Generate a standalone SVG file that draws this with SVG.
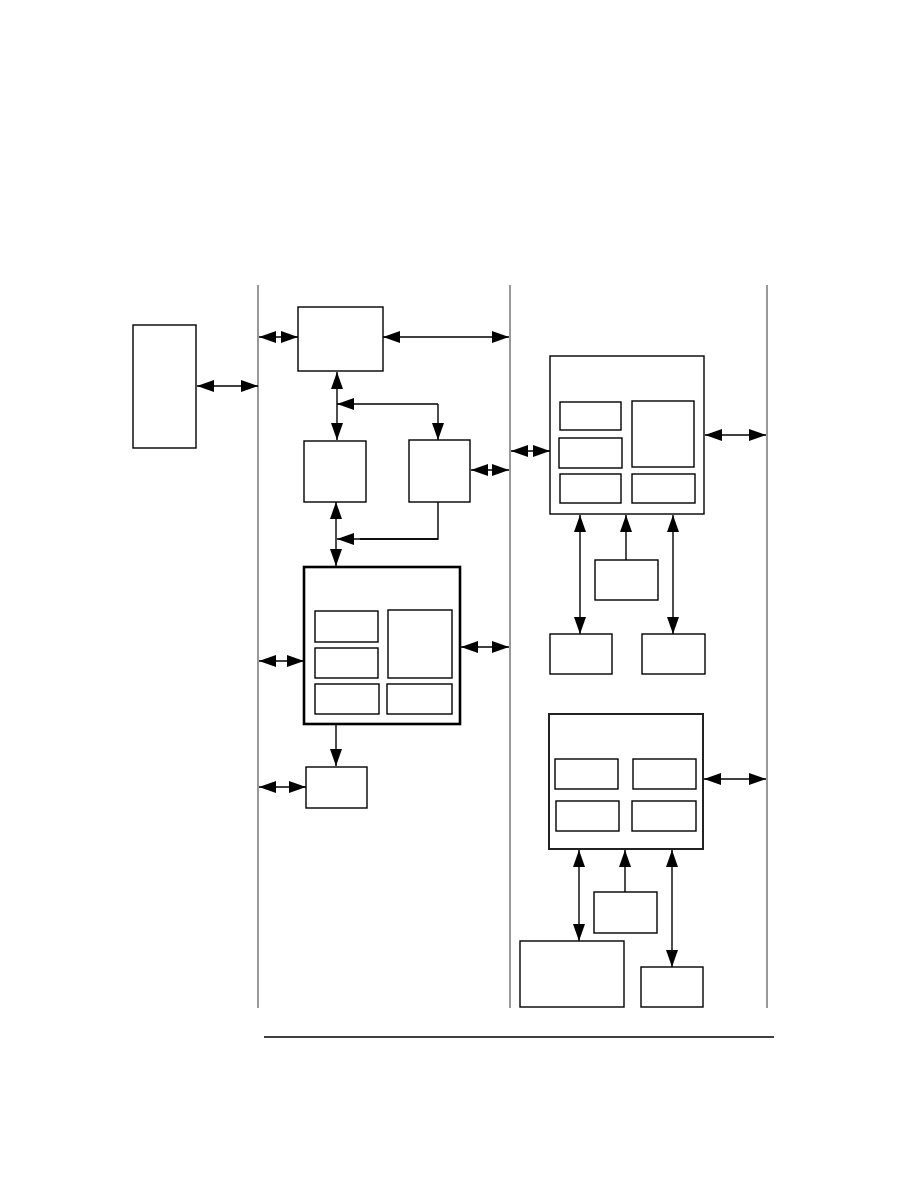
<svg xmlns="http://www.w3.org/2000/svg" width="918" height="1188" viewBox="0 0 918 1188">
<defs>
<marker id="ah" markerUnits="userSpaceOnUse" markerWidth="18" markerHeight="12" refX="17" refY="6" orient="auto-start-reverse" viewBox="0 0 18 12">
<path d="M0,0 L17,6 L0,12 z" fill="#000"/>
</marker>
<style>
.box{fill:#fff;stroke:#000;stroke-width:1.4}
.thick{fill:#fff;stroke:#000;stroke-width:2.6}
.med{fill:#fff;stroke:#222;stroke-width:2}
.sep{stroke:#777;stroke-width:1.5;fill:none}
.rule{stroke:#000;stroke-width:1.3;fill:none}
.c{stroke:#000;stroke-width:1.4;fill:none}
.d{marker-start:url(#ah);marker-end:url(#ah)}
.e{marker-end:url(#ah)}
</style>
</defs>
<rect width="918" height="1188" fill="#fff"/>
<g id="separators">
<line class="sep" x1="258" y1="285" x2="258" y2="1008"/>
<line class="sep" x1="510" y1="285" x2="510" y2="1008"/>
<line class="sep" x1="767" y1="285" x2="767" y2="1008"/>
<line class="rule" x1="264" y1="1037" x2="774" y2="1037"/>
</g>
<g id="connectors">
<line class="c d" x1="197" y1="386" x2="258" y2="386"/>
<line class="c d" x1="259" y1="337" x2="298" y2="337"/>
<line class="c d" x1="383" y1="337" x2="509" y2="337"/>
<line class="c d" x1="337" y1="372" x2="337" y2="440"/>
<line class="c e" x1="438" y1="404" x2="337" y2="404"/>
<line class="c e" x1="438" y1="404" x2="438" y2="440"/>
<line class="c d" x1="471" y1="470" x2="509" y2="470"/>
<polyline class="c" points="438,502 438,539 360,539"/>
<line class="c e" x1="438" y1="539" x2="337" y2="539"/>
<line class="c d" x1="336" y1="502" x2="336" y2="566"/>
<line class="c d" x1="259" y1="661" x2="304" y2="661"/>
<line class="c d" x1="461" y1="647" x2="509" y2="647"/>
<line class="c e" x1="336" y1="725" x2="336" y2="766"/>
<line class="c d" x1="259" y1="787" x2="306" y2="787"/>
<line class="c d" x1="511" y1="451" x2="550" y2="451"/>
<line class="c d" x1="705" y1="435" x2="766" y2="435"/>
<line class="c d" x1="580" y1="515" x2="580" y2="634"/>
<line class="c e" x1="626" y1="560" x2="626" y2="515"/>
<line class="c d" x1="673" y1="515" x2="673" y2="634"/>
<line class="c d" x1="704" y1="779" x2="766" y2="779"/>
<line class="c d" x1="579" y1="850" x2="579" y2="941"/>
<line class="c e" x1="625" y1="892" x2="625" y2="850"/>
<line class="c d" x1="672" y1="850" x2="672" y2="967"/>
</g>
<g id="ext"><rect class="box" x="133" y="325" width="63" height="123"/></g>
<g id="top"><rect class="box" x="298" y="307" width="85" height="64"/></g>
<g id="b"><rect class="box" x="304" y="441" width="62" height="61"/></g>
<g id="c"><rect class="box" x="409" y="440" width="61" height="62"/></g>
<g id="main">
<rect class="thick" x="304" y="567" width="156" height="157"/>
<rect class="box" x="315" y="611" width="63" height="31"/>
<rect class="box" x="315" y="648" width="63" height="30"/>
<rect class="box" x="315" y="684" width="64" height="30"/>
<rect class="box" x="388" y="610" width="64" height="68"/>
<rect class="box" x="387" y="684" width="65" height="30"/>
</g>
<g id="small"><rect class="box" x="306" y="767" width="61" height="41"/></g>
<g id="r1">
<rect class="box" x="550" y="356" width="154" height="158"/>
<rect class="box" x="560" y="402" width="61" height="28"/>
<rect class="box" x="559" y="438" width="63" height="30"/>
<rect class="box" x="560" y="474" width="61" height="29"/>
<rect class="box" x="632" y="401" width="62" height="66"/>
<rect class="box" x="632" y="474" width="63" height="29"/>
</g>
<g id="r1mid"><rect class="box" x="595" y="560" width="63" height="40"/></g>
<g id="r1bl"><rect class="box" x="550" y="634" width="62" height="40"/></g>
<g id="r1br"><rect class="box" x="642" y="634" width="63" height="40"/></g>
<g id="r2">
<rect class="med" x="549" y="714" width="154" height="135"/>
<rect class="box" x="555" y="759" width="63" height="30"/>
<rect class="box" x="633" y="759" width="63" height="30"/>
<rect class="box" x="556" y="801" width="63" height="30"/>
<rect class="box" x="632" y="801" width="64" height="30"/>
</g>
<g id="r2mid"><rect class="box" x="594" y="892" width="63" height="41"/></g>
<g id="r2bl"><rect class="box" x="520" y="941" width="104" height="66"/></g>
<g id="r2br"><rect class="box" x="641" y="967" width="62" height="40"/></g>
</svg>
